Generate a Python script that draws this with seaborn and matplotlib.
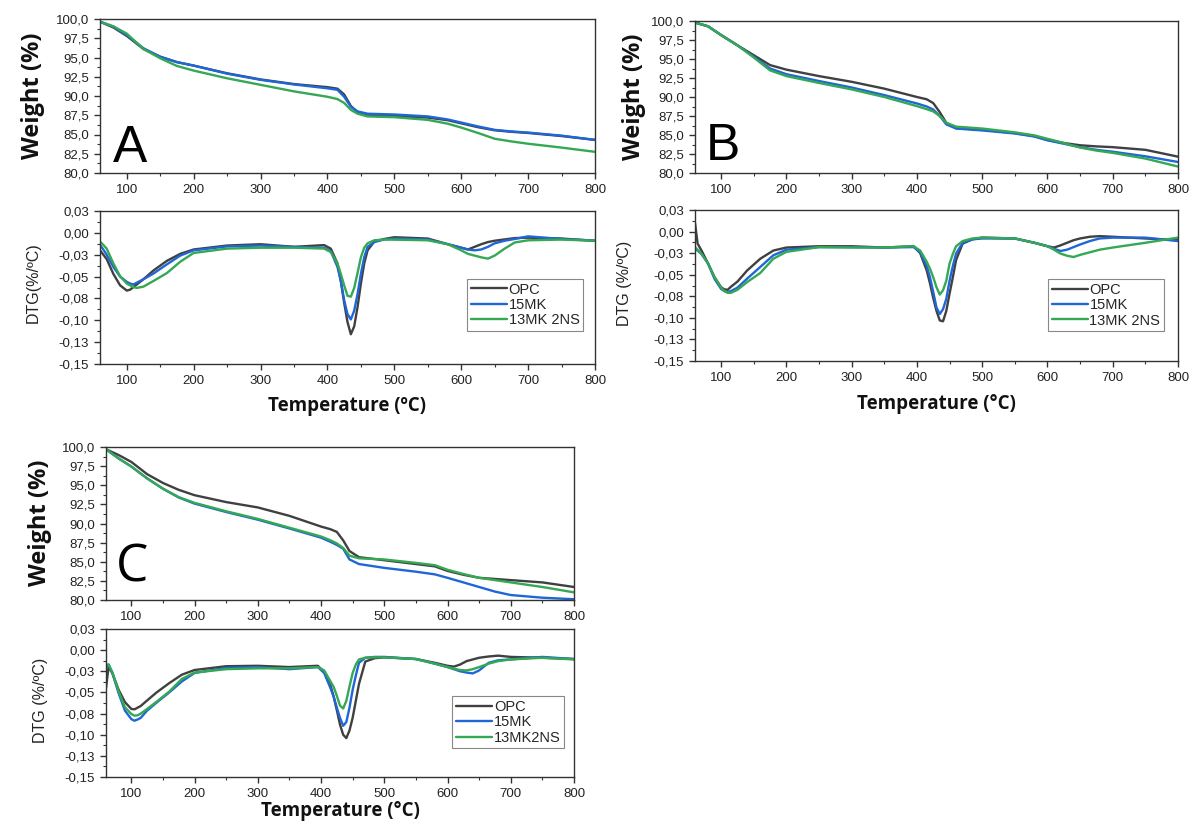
import numpy as np
import pandas as pd
import matplotlib
matplotlib.use("Agg")
import matplotlib.pyplot as plt
import seaborn as sns
from matplotlib.ticker import FixedLocator, FixedFormatter, MultipleLocator, FuncFormatter

# ---------------- data ----------------
SAMPLES = ["OPC", "15MK", "13MK 2NS"]
LEGEND_C = ["OPC", "15MK", "13MK2NS"]
COLORS = ["#404040", "#1f66d6", "#34a853"]

T_TG = [60, 80, 100, 125, 150, 175, 200, 250, 300, 350, 400, 415, 425, 435, 445, 460,
        500, 550, 580, 600, 625, 650, 675, 700, 750, 800]

A_TG_OPC = [99.65, 98.9, 97.8, 96.1, 95.1, 94.4, 93.95, 92.95, 92.15, 91.55, 91.15, 90.95, 90.2, 88.7, 87.9, 87.55,
            87.4, 87.2, 86.85, 86.45, 85.95, 85.55, 85.35, 85.2, 84.8, 84.3]
A_TG_15MK = [99.65, 99.0, 97.9, 96.2, 95.1, 94.4, 93.95, 92.9, 92.1, 91.5, 91.0, 90.8, 89.9, 88.6, 88.0, 87.7,
             87.6, 87.35, 86.95, 86.55, 86.05, 85.6, 85.4, 85.25, 84.85, 84.3]
A_TG_13MK2NS = [99.65, 99.05, 98.1, 96.1, 94.9, 93.9, 93.3, 92.3, 91.45, 90.6, 89.9, 89.6, 89.1, 88.2, 87.7, 87.35,
                87.25, 86.9, 86.4, 85.9, 85.2, 84.45, 84.1, 83.8, 83.3, 82.75]

B_TG_OPC = [99.8, 99.3, 98.15, 96.8, 95.5, 94.2, 93.6, 92.75, 92.0, 91.1, 90.0, 89.7, 89.2, 88.0, 86.6, 85.9,
            85.7, 85.25, 84.85, 84.35, 83.95, 83.65, 83.5, 83.4, 83.05, 82.15]
B_TG_15MK = [99.8, 99.3, 98.15, 96.8, 95.3, 93.75, 93.0, 92.1, 91.25, 90.25, 89.15, 88.75, 88.35, 87.5, 86.4, 85.85,
             85.6, 85.2, 84.8, 84.3, 83.85, 83.4, 83.05, 82.8, 82.2, 81.45]
B_TG_13MK2NS = [99.8, 99.3, 98.15, 96.8, 95.2, 93.5, 92.75, 91.85, 91.0, 90.0, 88.8, 88.4, 88.1, 87.5, 86.6, 86.1,
                85.85, 85.35, 84.95, 84.5, 83.95, 83.35, 82.95, 82.65, 81.9, 80.85]

C_TG_OPC = [99.7, 98.95, 98.05, 96.45, 95.3, 94.4, 93.7, 92.8, 92.1, 91.0, 89.6, 89.25, 88.9, 87.8, 86.4, 85.6,
            85.2, 84.7, 84.4, 83.8, 83.3, 82.9, 82.75, 82.6, 82.3, 81.7]
C_TG_15MK = [99.7, 98.5, 97.45, 95.9, 94.55, 93.4, 92.6, 91.5, 90.5, 89.35, 88.15, 87.6, 87.2, 86.7, 85.3, 84.7,
             84.2, 83.7, 83.35, 82.9, 82.3, 81.7, 81.1, 80.65, 80.3, 80.1]
C_TG_13MK2NS = [99.7, 98.5, 97.45, 95.9, 94.55, 93.45, 92.7, 91.6, 90.6, 89.45, 88.3, 87.8, 87.4, 86.8, 85.8, 85.45,
                85.3, 84.85, 84.55, 83.95, 83.4, 82.9, 82.6, 82.3, 81.7, 81.0]

T_DTG = [60, 64, 70, 80, 90, 100, 105, 110, 115, 125, 140, 160, 180, 200, 250, 300, 350, 395, 405, 415,
         420, 425, 430, 435, 440, 445, 450, 455, 460, 470, 485, 500, 550, 580, 600, 610, 620, 630, 640, 650,
         665, 680, 700, 750, 800]

A_DTG_OPC = [-0.020, -0.024, -0.030, -0.047, -0.060, -0.066, -0.065, -0.062, -0.059, -0.053, -0.043, -0.032, -0.024,
             -0.019, -0.0145, -0.013, -0.016, -0.014, -0.018, -0.035, -0.055, -0.080, -0.102, -0.116, -0.107, -0.085,
             -0.058, -0.035, -0.020, -0.010, -0.007, -0.005, -0.0065, -0.013, -0.017, -0.019, -0.016, -0.013, -0.0105,
             -0.009, -0.0075, -0.006, -0.0055, -0.0065, -0.009]
A_DTG_15MK = [-0.014, -0.018, -0.025, -0.039, -0.050, -0.056, -0.058, -0.059, -0.057, -0.053, -0.0465, -0.036, -0.026,
              -0.020, -0.0155, -0.0145, -0.016, -0.017, -0.021, -0.039, -0.055, -0.077, -0.093, -0.099, -0.089, -0.070,
              -0.047, -0.028, -0.016, -0.0105, -0.0075, -0.0065, -0.0075, -0.013, -0.017, -0.019, -0.020, -0.019,
              -0.016, -0.012, -0.009, -0.007, -0.004, -0.007, -0.009]
A_DTG_13MK2NS = [-0.010, -0.013, -0.018, -0.035, -0.0495, -0.058, -0.060, -0.062, -0.063, -0.0615, -0.055, -0.046,
                 -0.033, -0.023, -0.018, -0.017, -0.017, -0.018, -0.022, -0.035, -0.047, -0.060, -0.072, -0.073, -0.063,
                 -0.046, -0.028, -0.017, -0.012, -0.0085, -0.0077, -0.0078, -0.0085, -0.013, -0.020, -0.024, -0.026,
                 -0.028, -0.0295, -0.026, -0.018, -0.011, -0.0085, -0.0077, -0.009]

B_DTG_OPC = [0.010, -0.014, -0.022, -0.037, -0.053, -0.0645, -0.067, -0.0675, -0.064, -0.058, -0.045, -0.0315, -0.022,
             -0.0185, -0.017, -0.017, -0.0185, -0.017, -0.025, -0.045, -0.060, -0.077, -0.092, -0.103, -0.104, -0.092,
             -0.072, -0.053, -0.033, -0.014, -0.009, -0.007, -0.008, -0.013, -0.017, -0.0185, -0.016, -0.013, -0.010,
             -0.008, -0.006, -0.0053, -0.006, -0.008, -0.010]
B_DTG_15MK = [-0.020, -0.022, -0.026, -0.037, -0.055, -0.0665, -0.069, -0.070, -0.069, -0.065, -0.0545, -0.041,
              -0.0275, -0.021, -0.018, -0.018, -0.0185, -0.018, -0.024, -0.040, -0.053, -0.070, -0.088, -0.0955,
              -0.090, -0.078, -0.057, -0.040, -0.0255, -0.013, -0.009, -0.008, -0.008, -0.013, -0.017, -0.020,
              -0.0225, -0.021, -0.018, -0.015, -0.011, -0.008, -0.007, -0.007, -0.011]
B_DTG_13MK2NS = [-0.018, -0.021, -0.026, -0.037, -0.053, -0.065, -0.069, -0.071, -0.071, -0.0675, -0.0585, -0.048,
                 -0.0315, -0.0235, -0.018, -0.0185, -0.0185, -0.017, -0.022, -0.035, -0.043, -0.053, -0.0645, -0.073,
                 -0.068, -0.057, -0.037, -0.026, -0.017, -0.011, -0.008, -0.007, -0.008, -0.013, -0.017, -0.021,
                 -0.0255, -0.028, -0.0295, -0.027, -0.024, -0.021, -0.0185, -0.013, -0.007]

C_DTG_OPC = [-0.045, -0.020, -0.027, -0.047, -0.0615, -0.0695, -0.070, -0.068, -0.066, -0.0595, -0.050, -0.039,
             -0.029, -0.0235, -0.019, -0.0185, -0.020, -0.0185, -0.026, -0.042, -0.055, -0.071, -0.088, -0.100, -0.104,
             -0.095, -0.080, -0.060, -0.040, -0.0135, -0.0095, -0.0085, -0.0105, -0.015, -0.0185, -0.0195, -0.017,
             -0.013, -0.011, -0.009, -0.0075, -0.0065, -0.008, -0.009, -0.0105]
C_DTG_15MK = [-0.020, -0.017, -0.027, -0.051, -0.0715, -0.0815, -0.0835, -0.082, -0.080, -0.0715, -0.062, -0.050,
              -0.037, -0.027, -0.021, -0.020, -0.0225, -0.020, -0.027, -0.045, -0.055, -0.068, -0.080, -0.0895, -0.085,
              -0.068, -0.047, -0.030, -0.015, -0.009, -0.008, -0.008, -0.0105, -0.016, -0.020, -0.0225, -0.025,
              -0.0265, -0.0275, -0.024, -0.015, -0.012, -0.011, -0.008, -0.0105]
C_DTG_13MK2NS = [-0.018, -0.017, -0.026, -0.049, -0.0675, -0.0755, -0.0775, -0.077, -0.075, -0.0695, -0.061, -0.049,
                 -0.034, -0.0265, -0.0225, -0.0215, -0.0215, -0.020, -0.024, -0.037, -0.0435, -0.054, -0.0655, -0.069,
                 -0.060, -0.043, -0.027, -0.017, -0.011, -0.009, -0.0085, -0.0085, -0.0105, -0.016, -0.020, -0.022,
                 -0.0235, -0.024, -0.0225, -0.020, -0.016, -0.013, -0.011, -0.009, -0.011]

X_TICKS = [100, 200, 300, 400, 500, 600, 700, 800]
DTG_TICK_LABELS = ["-0,15", "-0,13", "-0,10", "-0,08", "-0,05", "-0,03", "0,00", "0,03"]

# ---------------- style ----------------
sns.set_theme(style="ticks")
plt.rcParams["font.family"] = ["Liberation Sans", "DejaVu Sans"]
plt.rcParams["axes.linewidth"] = 1.0
plt.rcParams["axes.edgecolor"] = "#333333"

W, H = 1194, 827
fig = plt.figure(figsize=(W / 100, H / 100), dpi=100)
fig.patch.set_facecolor("white")


def px_axes(l, r, t, b):
    return fig.add_axes([l / W, 1 - b / H, (r - l) / W, (b - t) / H])


def long_df(T, series, names):
    rows = []
    for name, vals in zip(names, series):
        for t, v in zip(T, vals):
            rows.append((t, v, name))
    return pd.DataFrame(rows, columns=["T", "val", "sample"])


def style_axis(ax):
    ax.set_xlim(60, 800)
    ax.xaxis.set_major_locator(FixedLocator(X_TICKS))
    ax.xaxis.set_minor_locator(MultipleLocator(50))
    ax.tick_params(axis="both", which="major", direction="out", length=4, width=1,
                   labelsize=9.5, pad=4, colors="#333333", labelcolor="#222222")
    ax.tick_params(axis="both", which="minor", direction="out", length=2.5, width=0.8, colors="#333333")
    ax.tick_params(top=False, right=False, which="both")
    for sp in ax.spines.values():
        sp.set_visible(True)
        sp.set_color("#333333")
    ax.set_xlabel("")
    ax.set_ylabel("")


def draw_tg(ax, series):
    df = long_df(T_TG, series, SAMPLES)
    sns.lineplot(data=df, x="T", y="val", hue="sample", palette=COLORS, hue_order=SAMPLES,
                 estimator=None, sort=False, linewidth=1.7, ax=ax, legend=False)
    style_axis(ax)
    ax.set_ylim(80, 100)
    ax.yaxis.set_major_locator(MultipleLocator(2.5))
    ax.yaxis.set_minor_locator(MultipleLocator(1.25))
    ax.yaxis.set_major_formatter(FuncFormatter(lambda v, p: f"{v:.1f}".replace(".", ",")))


def draw_dtg(ax, series, leg_labels, anchor):
    df = long_df(T_DTG, series, SAMPLES)
    sns.lineplot(data=df, x="T", y="val", hue="sample", palette=COLORS, hue_order=SAMPLES,
                 estimator=None, sort=False, linewidth=1.7, ax=ax, legend=False)
    style_axis(ax)
    ax.set_ylim(-0.15, 0.025)
    ax.yaxis.set_major_locator(FixedLocator(np.linspace(-0.15, 0.025, 8)))
    ax.yaxis.set_major_formatter(FixedFormatter(DTG_TICK_LABELS))
    ax.yaxis.set_minor_locator(FixedLocator(np.linspace(-0.1375, 0.0125, 7)))
    handles = ax.get_lines()[:3]
    leg = ax.legend(handles, leg_labels, loc="upper right", bbox_to_anchor=anchor,
                    fontsize=10.5, frameon=True, fancybox=False, framealpha=1,
                    edgecolor="#888888", handlelength=2.5, handletextpad=0.1,
                    labelspacing=0.1, borderpad=0.25, borderaxespad=0)
    leg.get_frame().set_linewidth(0.8)


# ---------------- panels ----------------
axA1 = px_axes(100, 595, 19, 173)
axA2 = px_axes(100, 595, 211, 364)
axB1 = px_axes(695, 1178, 21, 173)
axB2 = px_axes(695, 1178, 210, 361)
axC1 = px_axes(106, 574, 447, 600)
axC2 = px_axes(106, 574, 629, 777)

draw_tg(axA1, [A_TG_OPC, A_TG_15MK, A_TG_13MK2NS])
draw_tg(axB1, [B_TG_OPC, B_TG_15MK, B_TG_13MK2NS])
draw_tg(axC1, [C_TG_OPC, C_TG_15MK, C_TG_13MK2NS])
draw_dtg(axA2, [A_DTG_OPC, A_DTG_15MK, A_DTG_13MK2NS], SAMPLES, (0.976, 0.556))
draw_dtg(axB2, [B_DTG_OPC, B_DTG_15MK, B_DTG_13MK2NS], SAMPLES, (0.971, 0.543))
draw_dtg(axC2, [C_DTG_OPC, C_DTG_15MK, C_DTG_13MK2NS], LEGEND_C, (0.979, 0.547))


def ftext(x, y, s, **kw):
    fig.text(x / W, 1 - y / H, s, **kw)


bold = dict(family=["Open Sans", "DejaVu Sans"], fontweight="bold", color="#111111")
# y labels
for x, y in [(33, 96), (634, 97), (40, 523)]:
    ftext(x, y, "Weight (%)", rotation=90, ha="center", va="center", fontsize=17, **bold)
ftext(33, 283, "DTG(%/ºC)", rotation=90, ha="center", va="center", fontsize=11.5, color="#222222")
ftext(625, 283, "DTG (%/ºC)", rotation=90, ha="center", va="center", fontsize=11.5, color="#222222")
ftext(40, 700, "DTG (%/ºC)", rotation=90, ha="center", va="center", fontsize=11.5, color="#222222")
# x labels
ftext(347, 406, "Temperature (ºC)", ha="center", va="center", fontsize=13.5, **bold)
ftext(936, 404, "Temperature (°C)", ha="center", va="center", fontsize=13.5, **bold)
ftext(340, 811, "Temperature (°C)", ha="center", va="center", fontsize=13.5, **bold)
# panel letters
ftext(113, 162, "A", ha="left", va="baseline", fontsize=37, color="black")
ftext(706, 160, "B", ha="left", va="baseline", fontsize=37, color="black")
ftext(116, 582, "C", ha="left", va="baseline", fontsize=37, color="black",
      family=["Open Sans", "DejaVu Sans"])

fig.savefig("out.png", dpi=100, facecolor="white")
